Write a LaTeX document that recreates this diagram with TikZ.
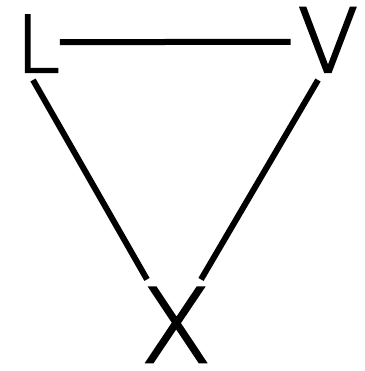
\documentclass[tikz,border=0pt]{standalone}
\usepackage{fontspec}
\setmainfont{DejaVu Sans ExtraLight}[UprightFeatures={FakeBold=2.6}]
\begin{document}
\begin{tikzpicture}[x=1pt,y=-1pt,
  letter/.style={inner sep=0pt,anchor=base,font=\fontsize{#1}{#1}\selectfont},
  edge/.style={line width=6pt}]
\useasboundingbox (0,0) rectangle (364,371);
\node[letter=78] (L) at (38,72) {L};
\node[letter=88] (V) at (328,72) {V};
\node[letter=102] (X) at (176,362) {X};
\draw[edge] ([shift={(0,-1.5)}]L.east) -- ([shift={(-7,2)}]V.west);
\draw[edge] ([shift={(-5,8)}]L.base) -- ([shift={(-29,-8)}]X.north);
\draw[edge] ([shift={(-10,8)}]V.base) -- ([shift={(25,-8)}]X.north);
\end{tikzpicture}
\end{document}
